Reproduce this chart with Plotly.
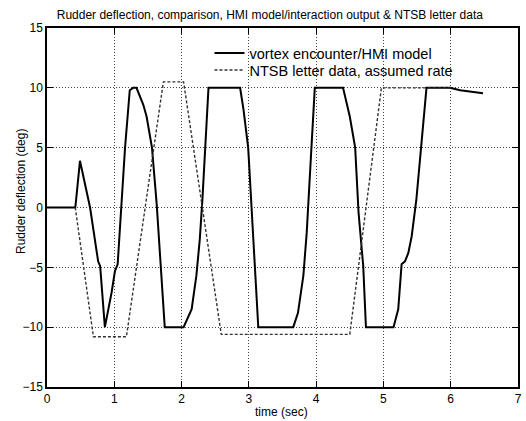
import plotly.graph_objects as go

# vortex encounter / HMI model
hmi_t = [0, 0.42, 0.43, 0.49, 0.64, 0.76, 0.79, 0.86, 0.96, 1.01, 1.05, 1.08, 1.16, 1.23, 1.28, 1.33,
         1.43, 1.48, 1.56, 1.63, 1.75, 2.03, 2.15, 2.22, 2.27, 2.31, 2.40, 2.87, 2.92, 2.99, 3.04,
         3.14, 3.66, 3.73, 3.81, 3.86, 3.93, 3.98, 4.40, 4.50, 4.58, 4.63, 4.70, 4.74, 5.15, 5.22,
         5.27, 5.32, 5.37, 5.42, 5.49, 5.64, 5.99, 6.14, 6.48]
hmi_y = [0, 0, 0.5, 3.9, 0, -4.5, -4.9, -10, -7.1, -5.3, -4.75, -2.1, 5, 9.8, 10, 10,
         8.6, 7.6, 5, 0.3, -10, -10, -8.5, -5.7, -2.7, 0.7, 10, 10, 8.2, 5, -0.4,
         -10, -10, -8.8, -5.7, -2.1, 5, 10, 10, 7.6, 5, -0.4, -4.9, -10, -10, -8.5,
         -4.75, -4.5, -3.8, -2.4, 0.7, 10, 10, 9.8, 9.55]

# NTSB letter data, assumed rate
ntsb_t = [0.42, 0.69, 1.18, 1.73, 2.03, 2.59, 4.50, 4.97, 6.0]
ntsb_y = [0, -10.8, -10.8, 10.5, 10.5, -10.6, -10.6, 10, 10]

x_ticks = [0, 1, 2, 3, 4, 5, 6, 7]
y_ticks = [-15, -10, -5, 0, 5, 10, 15]

fig = go.Figure()
fig.add_trace(go.Scatter(x=hmi_t, y=hmi_y, mode="lines", name="vortex encounter/HMI model",
                         line=dict(color="black", width=2), legend="legend"))
fig.add_trace(go.Scatter(x=ntsb_t, y=ntsb_y, mode="lines", name="NTSB letter data, assumed rate",
                         line=dict(color="#333333", width=1.4, dash="3px,2px"), legend="legend2"))

axis_common = dict(showline=True, linecolor="black", linewidth=1.5, mirror="ticks",
                   ticks="inside", ticklen=6, tickcolor="black",
                   showgrid=True, gridcolor="#444444", gridwidth=1, griddash="1px,2px",
                   zeroline=False, automargin=False, tickfont=dict(size=12, color="black"))

# white legend background box (covers grid like the original)
fig.add_shape(type="rect", xref="paper", yref="paper",
              x0=(190 - 47) / 471, x1=(515 - 47) / 471,
              y0=1 - (81 - 28) / 359, y1=1 - (35 - 28) / 359,
              fillcolor="white", line=dict(width=0), layer="between")

fig.update_layout(
    width=526, height=421,
    margin=dict(l=47, r=8, t=28, b=34),
    paper_bgcolor="white", plot_bgcolor="white",
    font=dict(family="Liberation Sans, Arial, sans-serif", color="black"),
    title=dict(text="Rudder deflection, comparison, HMI model/interaction output & NTSB letter data",
               x=0.513, xanchor="center", y=0.964, yanchor="middle", font=dict(size=12)),
    xaxis=dict(range=[0, 7], tickvals=x_ticks, **axis_common),
    yaxis=dict(range=[-15, 15], tickvals=y_ticks, **axis_common),
    legend=dict(x=0.345, y=1 - (53 - 28) / 359, xanchor="left", yanchor="middle",
                bgcolor="rgba(0,0,0,0)", borderwidth=0, font=dict(size=14.5)),
    legend2=dict(x=0.345, y=1 - (70 - 28) / 359, xanchor="left", yanchor="middle",
                 bgcolor="rgba(0,0,0,0)", borderwidth=0, font=dict(size=14.5)),
    showlegend=True,
    annotations=[
        dict(text="Rudder deflection (deg)", xref="paper", yref="paper",
             x=0, y=1 - (192 - 28) / 359, xanchor="center", yanchor="middle",
             xshift=-26, textangle=-90, showarrow=False, font=dict(size=12)),
        dict(text="time (sec)", xref="paper", yref="paper",
             x=(281 - 47) / 471, y=0, xanchor="center", yanchor="middle",
             yshift=-(412 - 387), showarrow=False, font=dict(size=12)),
    ],
)

fig.write_html("out.html")
